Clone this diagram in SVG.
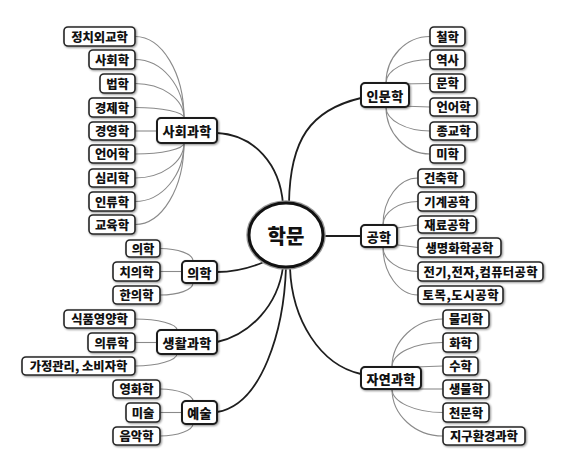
<svg xmlns="http://www.w3.org/2000/svg" width="562" height="460" viewBox="0 0 562 460">
<style>
  .bg { fill: #ffffff; }
  .leaf rect { fill: #ffffff; stroke: #262626; stroke-width: 1.6; filter: url(#halo); }
  .hub rect { fill: #ffffff; stroke: #1a1a1a; stroke-width: 2; filter: url(#halo); }
  text { font-family: "Noto Sans CJK KR", "Noto Sans", sans-serif; font-weight: 900; fill: #111111; text-anchor: middle; dominant-baseline: central; }
  .leaf text { font-size: 12.3px; }
  .hub text { font-size: 13px; letter-spacing: 0.3px; }
  .sub { fill: none; stroke: #8a8a8a; stroke-width: 1.1; }
  .main { fill: none; stroke: #1e1e1e; stroke-width: 1.8; }
</style>
<defs>
  <filter id="halo" x="-20%" y="-40%" width="140%" height="180%">
    <feGaussianBlur in="SourceAlpha" stdDeviation="1.1" result="b"/>
    <feOffset in="b" dx="0.6" dy="0.6" result="o"/>
    <feComponentTransfer in="o" result="s"><feFuncA type="linear" slope="0.45"/></feComponentTransfer>
    <feMerge><feMergeNode in="s"/><feMergeNode in="SourceGraphic"/></feMerge>
  </filter>
</defs>
<rect class="bg" x="0" y="0" width="562" height="460"/>

<g id="connectors">
  <path class="main" d="M217,133 C255,135 280,165 283,204"/>
  <path class="main" d="M361,98 C310,110 290,140 289,203"/>
  <path class="main" d="M323,236 L361,236"/>
  <path class="main" d="M217,272 C235,272 250,268 264,262"/>
  <path class="main" d="M217,342 C250,335 278,305 283,267"/>
  <path class="main" d="M217,412 C262,405 284,330 286,267"/>
  <path class="main" d="M290,268 C292,320 320,365 361,374"/>
  <path class="sub" d="M135,36.5 C162,36.5 184,73 184,118"/>
  <path class="sub" d="M135,59.5 C162,59.5 184,86 184,118"/>
  <path class="sub" d="M135,83.5 C162,83.5 184,99 184,118"/>
  <path class="sub" d="M135,107.5 C162,107.5 184,112 184,118"/>
  <path class="sub" d="M135,131 L157,131"/>
  <path class="sub" d="M135,154 C162,154 184,149 184,143"/>
  <path class="sub" d="M135,178 C162,178 184,162 184,143"/>
  <path class="sub" d="M135,201.5 C162,201.5 184,175 184,143"/>
  <path class="sub" d="M135,224.5 C162,224.5 184,188 184,143"/>
  <path class="sub" d="M430,36.5 C406,36.5 386,57 386,83"/>
  <path class="sub" d="M430,59.5 C406,59.5 386,70 386,83"/>
  <path class="sub" d="M430,83.5 L400,84"/>
  <path class="sub" d="M430,107 L400,106"/>
  <path class="sub" d="M430,131 C406,131 386,120 386,107"/>
  <path class="sub" d="M430,154 C406,154 386,133 386,107"/>
  <path class="sub" d="M418,178 C399,178 383,199 383,225"/>
  <path class="sub" d="M418,201.5 C399,201.5 383,212 383,225"/>
  <path class="sub" d="M418,225 L390,229"/>
  <path class="sub" d="M418,247.5 L390,244"/>
  <path class="sub" d="M418,271.5 C399,271.5 383,260 383,247"/>
  <path class="sub" d="M418,295 C399,295 383,273 383,247"/>
  <path class="sub" d="M443,319 C415,319 392,341 392,367"/>
  <path class="sub" d="M443,342.5 C415,342.5 392,353 392,367"/>
  <path class="sub" d="M443,366 L415,367"/>
  <path class="sub" d="M443,389 L415,389"/>
  <path class="sub" d="M443,412.5 C415,412.5 392,402 392,389"/>
  <path class="sub" d="M443,436 C415,436 392,415 392,389"/>
  <path class="sub" d="M160,248.5 C178,248.5 193,254 193,261"/>
  <path class="sub" d="M160,271.5 L182,271.5"/>
  <path class="sub" d="M160,295 C178,295 193,290 193,283"/>
  <path class="sub" d="M135,319 C158,319 177,324 177,330"/>
  <path class="sub" d="M135,342.5 L157,342.5"/>
  <path class="sub" d="M135,366 C158,366 177,360 177,354"/>
  <path class="sub" d="M160,389 C178,389 193,395 193,401"/>
  <path class="sub" d="M160,412.5 L182,412.5"/>
  <path class="sub" d="M160,436 C178,436 193,430 193,424"/>
</g>

<g id="root">
  <ellipse cx="286" cy="235" rx="37" ry="32" fill="#ffffff" stroke="#9a9a9a" stroke-width="5.5"/>
  <ellipse cx="286" cy="235" rx="37" ry="32" fill="#ffffff" stroke="#111111" stroke-width="3"/>
  <text x="286" y="235" style="font-size:20px">학문</text>
</g>

<g id="hub-social" class="hub"><rect x="157" y="118" width="60" height="25" rx="4"/><text x="187" y="130.5">사회과학</text></g>
<g id="hub-human" class="hub"><rect x="361" y="83" width="48" height="24" rx="4"/><text x="385" y="95">인문학</text></g>
<g id="hub-eng" class="hub"><rect x="361" y="225" width="36" height="22" rx="4"/><text x="379" y="236">공학</text></g>
<g id="hub-nat" class="hub"><rect x="361" y="367" width="60" height="22" rx="4"/><text x="391" y="378">자연과학</text></g>
<g id="hub-med" class="hub"><rect x="182" y="261" width="35" height="22" rx="4"/><text x="199.5" y="272">의학</text></g>
<g id="hub-life" class="hub"><rect x="157" y="330" width="60" height="24" rx="4"/><text x="187" y="342">생활과학</text></g>
<g id="hub-art" class="hub"><rect x="182" y="401" width="35" height="23" rx="4"/><text x="199.5" y="412.5">예술</text></g>

<g id="s1" class="leaf"><rect x="64" y="27" width="71" height="19" rx="4"/><text x="99.5" y="36.5">정치외교학</text></g>
<g id="s2" class="leaf"><rect x="89" y="50" width="46" height="19" rx="4"/><text x="112" y="59.5">사회학</text></g>
<g id="s3" class="leaf"><rect x="100" y="74" width="35" height="19" rx="4"/><text x="117.5" y="83.5">법학</text></g>
<g id="s4" class="leaf"><rect x="89" y="98" width="46" height="19" rx="4"/><text x="112" y="107.5">경제학</text></g>
<g id="s5" class="leaf"><rect x="89" y="122" width="46" height="18" rx="4"/><text x="112" y="131">경영학</text></g>
<g id="s6" class="leaf"><rect x="89" y="145" width="46" height="18" rx="4"/><text x="112" y="154">언어학</text></g>
<g id="s7" class="leaf"><rect x="89" y="169" width="46" height="18" rx="4"/><text x="112" y="178">심리학</text></g>
<g id="s8" class="leaf"><rect x="89" y="192" width="46" height="19" rx="4"/><text x="112" y="201.5">인류학</text></g>
<g id="s9" class="leaf"><rect x="89" y="215" width="46" height="19" rx="4"/><text x="112" y="224.5">교육학</text></g>

<g id="h1" class="leaf"><rect x="430" y="27" width="35" height="19" rx="4"/><text x="447.5" y="36.5">철학</text></g>
<g id="h2" class="leaf"><rect x="430" y="50" width="35" height="19" rx="4"/><text x="447.5" y="59.5">역사</text></g>
<g id="h3" class="leaf"><rect x="430" y="74" width="35" height="18" rx="4"/><text x="447.5" y="83">문학</text></g>
<g id="h4" class="leaf"><rect x="430" y="98" width="47" height="18" rx="4"/><text x="453.5" y="107">언어학</text></g>
<g id="h5" class="leaf"><rect x="430" y="122" width="47" height="18" rx="4"/><text x="453.5" y="131">종교학</text></g>
<g id="h6" class="leaf"><rect x="430" y="145" width="35" height="18" rx="4"/><text x="447.5" y="154">미학</text></g>

<g id="e1" class="leaf"><rect x="418" y="169" width="46" height="18" rx="4"/><text x="441" y="178">건축학</text></g>
<g id="e2" class="leaf"><rect x="418" y="192" width="58" height="19" rx="4"/><text x="447" y="201.5">기계공학</text></g>
<g id="e3" class="leaf"><rect x="418" y="216" width="58" height="17" rx="4"/><text x="447" y="224.5">재료공학</text></g>
<g id="e4" class="leaf"><rect x="418" y="238" width="83" height="19" rx="4"/><text x="459.5" y="247.5">생명화학공학</text></g>
<g id="e5" class="leaf"><rect x="418" y="262" width="125" height="19" rx="4"/><text x="480.5" y="271.5" textLength="114" lengthAdjust="spacing">전기,전자,컴퓨터공학</text></g>
<g id="e6" class="leaf"><rect x="418" y="286" width="85" height="18" rx="4"/><text x="460.5" y="295" textLength="76" lengthAdjust="spacing">토목,도시공학</text></g>

<g id="n1" class="leaf"><rect x="443" y="310" width="46" height="18" rx="4"/><text x="466" y="319">물리학</text></g>
<g id="n2" class="leaf"><rect x="443" y="333" width="35" height="19" rx="4"/><text x="460.5" y="342.5">화학</text></g>
<g id="n3" class="leaf"><rect x="443" y="357" width="35" height="18" rx="4"/><text x="460.5" y="366">수학</text></g>
<g id="n4" class="leaf"><rect x="443" y="380" width="46" height="18" rx="4"/><text x="466" y="389">생물학</text></g>
<g id="n5" class="leaf"><rect x="443" y="403" width="46" height="19" rx="4"/><text x="466" y="412.5">천문학</text></g>
<g id="n6" class="leaf"><rect x="443" y="427" width="82" height="18" rx="4"/><text x="484" y="436">지구환경과학</text></g>

<g id="m1" class="leaf"><rect x="126" y="240" width="34" height="17" rx="4"/><text x="143" y="248.5">의학</text></g>
<g id="m2" class="leaf"><rect x="113" y="262" width="47" height="19" rx="4"/><text x="136.5" y="271.5">치의학</text></g>
<g id="m3" class="leaf"><rect x="113" y="286" width="47" height="18" rx="4"/><text x="136.5" y="295">한의학</text></g>

<g id="l1" class="leaf"><rect x="64" y="310" width="71" height="18" rx="4"/><text x="99.5" y="319">식품영양학</text></g>
<g id="l2" class="leaf"><rect x="88" y="333" width="47" height="19" rx="4"/><text x="111.5" y="342.5">의류학</text></g>
<g id="l3" class="leaf"><rect x="22" y="357" width="113" height="18" rx="4"/><text x="78.5" y="366">가정관리, 소비자학</text></g>

<g id="a1" class="leaf"><rect x="113" y="380" width="47" height="18" rx="4"/><text x="136.5" y="389">영화학</text></g>
<g id="a2" class="leaf"><rect x="126" y="403" width="34" height="19" rx="4"/><text x="143" y="412.5">미술</text></g>
<g id="a3" class="leaf"><rect x="113" y="427" width="47" height="18" rx="4"/><text x="136.5" y="436">음악학</text></g>
</svg>
